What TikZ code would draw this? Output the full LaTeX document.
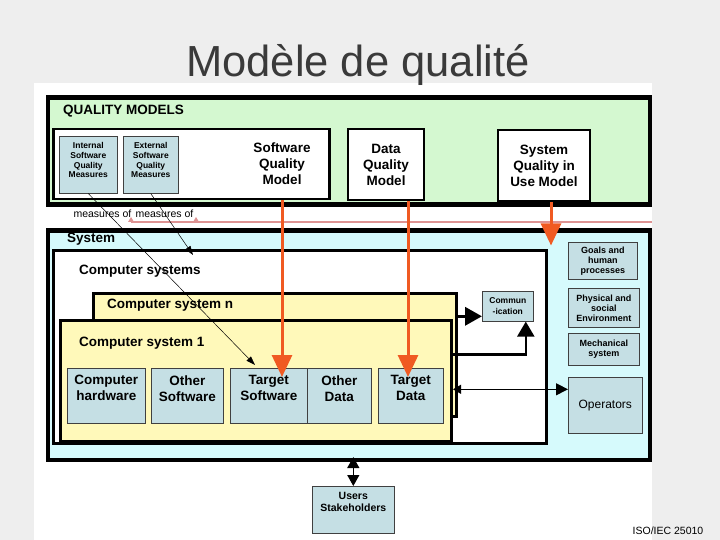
\documentclass[tikz,border=0pt]{standalone}
\usepackage{fontspec}
\setmainfont{Liberation Sans}
\usetikzlibrary{arrows.meta}
\definecolor{slidegray}{HTML}{EEEEEE}
\definecolor{titlegray}{HTML}{3A3A3A}
\definecolor{qgreen}{HTML}{D4F8D0}
\definecolor{scyan}{HTML}{D6FAFC}
\definecolor{cyellow}{HTML}{FFF9BA}
\definecolor{mblue}{HTML}{C5DFE4}
\definecolor{mred}{HTML}{F05A22}
\definecolor{mpink}{HTML}{DE9393}
\newcommand\fsz[2]{\fontsize{#1}{#2}\selectfont}
\begin{document}
\begin{tikzpicture}[x=1pt,y=-1pt,
  bx/.style={draw,anchor=north west,inner sep=0pt,align=center},
  mbox/.style={bx,fill=mblue,draw=black!75,line width=.6pt},
  tbox/.style={mbox,label={[anchor=north,align=center,yshift=-4pt,font=\bfseries\fsz{13.5}{16}]north:#1}},
  sbox/.style={mbox,label={[anchor=north,align=center,yshift=-3pt,font=\bfseries\fsz{8.5}{9.7}]north:#1}},
  ubox/.style={mbox,label={[anchor=north,align=center,yshift=-3pt,font=\bfseries\fsz{10.5}{12}]north:#1}},
  big/.style={font=\bfseries\fsz{13.5}{16},align=center},
  head/.style={font=\bfseries\fsz{13.5}{16},anchor=base west,inner sep=0pt},
  redar/.style={draw=mred,line width=3pt,-{Triangle[width=20pt,length=22pt]}},
  mline/.style={line width=.5pt,-{Triangle[width=6pt,length=9pt]}}]
\useasboundingbox (0,0) rectangle (720,540);
\fill[slidegray] (0,0) rectangle (720,540);
\fill[white] (34,83) rectangle (652,540);
\node[anchor=base,font=\fsz{43.5}{50},text=titlegray] (ttl) at (358,77) {Modèle de qualité};
% quality models
\node[bx,fill=qgreen,line width=4.5pt,minimum width=602,minimum height=107] (qm) at (45.5,95.5) {};
\node[head] (qmt) at (63,115) {QUALITY MODELS};
\node[bx,fill=white,line width=2.5pt,minimum width=276,minimum height=70] (swq) at (52,128) {};
\node[sbox={Internal\\Software\\Quality\\Measures},minimum width=58,minimum height=57] (ism) at (59,136) {};
\node[sbox={External\\Software\\Quality\\Measures},minimum width=55,minimum height=57] (esm) at (123,136) {};
\node[big] (swql) at (282,164) {Software\\Quality\\Model};
\node[bx,fill=white,line width=2pt,minimum width=76,minimum height=71,big] (dqm) at (347,128) {Data\\Quality\\Model};
\node[bx,fill=white,line width=2pt,minimum width=92,minimum height=71,big] (sqm) at (497,129) {System\\Quality in\\Use Model};
% measures of
\node[font=\fsz{10.5}{12},anchor=base west] (mo1) at (70,218) {measures of};
\node[font=\fsz{10.5}{12},anchor=base west] (mo2) at (132,218) {measures of};
\coordinate (pk1) at (131,222);
\coordinate (pk2) at (652,222);
\draw[mpink,line width=1.2pt] (pk1) -- (pk2);
\foreach \p in {131,196}{\fill[mpink] (\p-3,222) -- (\p,217) -- (\p+3,222) -- cycle;}
% system
\node[bx,fill=scyan,line width=4.5pt,minimum width=602,minimum height=229.5] (sys) at (45.5,228) {};
\node[head] (syst) at (67,242) {System};
\node[bx,fill=white,line width=3pt,minimum width=493.5,minimum height=193.5] (cs) at (51.5,248.5) {};
\node[head] (cst) at (79,274) {Computer systems};
\node[bx,fill=cyellow,line width=3pt,minimum width=363.5,minimum height=123.5] (csn) at (91.5,291.5) {};
\node[head] (csnt) at (107,308) {Computer system n};
\node[bx,fill=cyellow,line width=3pt,minimum width=391.5,minimum height=121] (cs1) at (58.5,319) {};
\node[head] (cs1t) at (79,346) {Computer system 1};
\foreach \nm/\xx/\ww/\tx in {hw/67/78/{Computer\\hardware},osw/151/72/{Other\\Software},tsw/230/77/{Target\\Software},oda/307/64/{Other\\Data},tda/378/65/{Target\\Data}}
  \node[tbox=\tx,minimum width=\ww,minimum height=55] (\nm) at (\xx,368) {};
\node[mbox,minimum width=51,minimum height=30,font=\bfseries\fsz{8.5}{10.5}] (comm) at (482,291) {Commun\\-ication};
% environment
\node[mbox,minimum width=69,minimum height=37,font=\bfseries\fsz{9}{10}] (goal) at (568,242) {Goals and\\human\\processes};
\node[mbox,minimum width=71,minimum height=39,font=\bfseries\fsz{9}{10}] (phys) at (568,288) {Physical and\\social\\Environment};
\node[mbox,minimum width=71,minimum height=32,font=\bfseries\fsz{9}{10.5}] (mech) at (568,333) {Mechanical\\system};
\node[mbox,minimum width=74,minimum height=56,font=\fsz{12}{14}] (oper) at (568,377) {Operators};
\node[ubox={Users\\Stakeholders},minimum width=82,minimum height=47] (users) at (312,486) {};
\node[font=\fsz{10.5}{12},anchor=base] (iso) at (668,534) {ISO/IEC 25010};
% arrows
\coordinate (me1) at ([xshift=25pt,yshift=3pt]tsw.north west);
\coordinate (me2) at (193,255);
\draw[mline] (ism.south) -- (me1);
\draw[mline] (esm.south) -- (me2);
\coordinate (c1) at ([yshift=-10pt]comm.west);
\draw[line width=3.5pt,-{Triangle[width=18pt,length=17pt]}] (c1 -| csn.east) -- (c1);
\coordinate (c2) at ([xshift=18pt]comm.south);
\draw[line width=2.2pt,-{Triangle[width=17pt,length=15pt]}] ([yshift=26.5pt]cs1.east) -| (c2);
\coordinate (c3) at ([yshift=16pt]oper.west);
\draw[line width=1pt,{Triangle[width=9pt,length=8pt]}-{Triangle[width=12pt,length=12pt]}] (c3 -| cs1.east) -- (c3);
\draw[line width=1.2pt,{Triangle[width=12pt,length=11pt]}-{Triangle[width=12pt,length=11pt]},shorten <=-5pt] (users.north |- sys.south) -- (users.north);
\draw[redar,shorten >=-9pt] (swq.south -| swql) -- (swql |- tsw.north);
\coordinate (dr) at ([xshift=22pt]dqm.south);
\draw[redar,shorten >=-9pt] (dr) -- (dr |- tda.north);
\coordinate (sr) at ([xshift=7pt]sqm.south);
\draw[redar,shorten >=3pt] (sr) -- (sr |- cs.north);
\end{tikzpicture}
\end{document}
